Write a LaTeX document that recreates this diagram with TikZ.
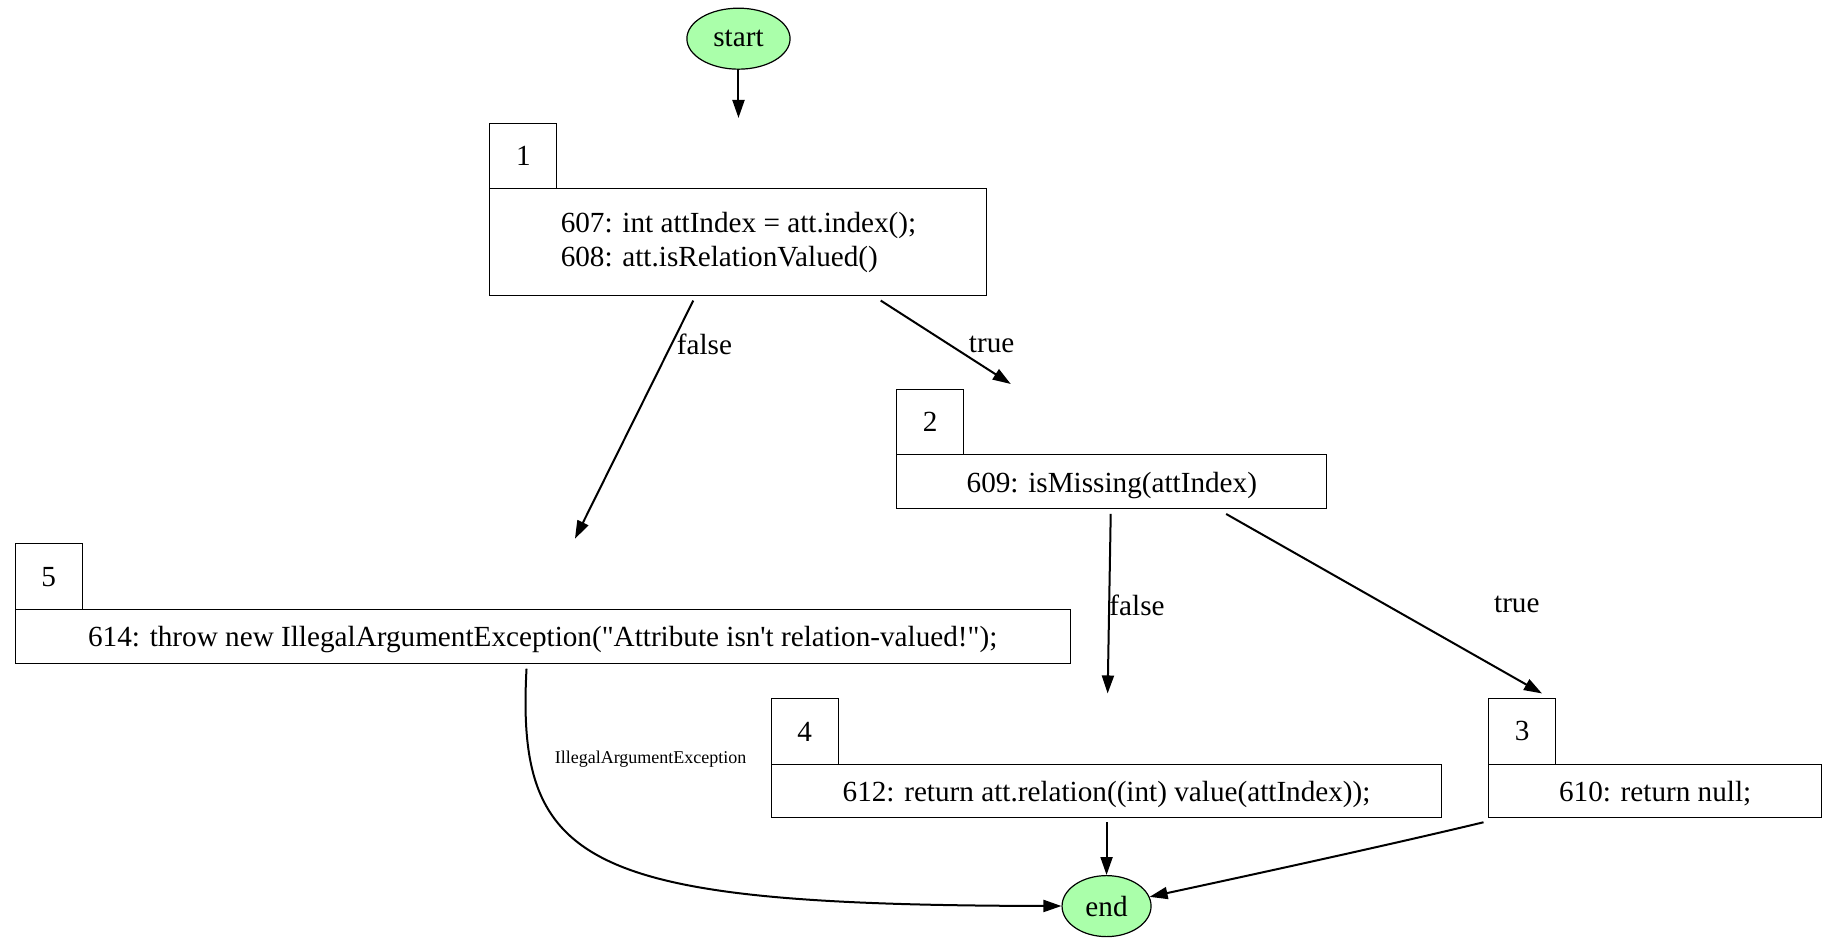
\documentclass[tikz,border=0pt]{standalone}
\usepackage{fontspec}
\setmainfont{Liberation Serif}
\usepackage{xcolor}
\usetikzlibrary{positioning,fit,arrows.meta,shapes.geometric}

\definecolor{termgreen}{RGB}{170,255,170}

\tikzset{
  terminal/.style={ellipse, draw, fill=termgreen, line width=0.6pt, inner sep=0pt, minimum height=30.5pt},
  codebox/.style={rectangle, draw, line width=0.5pt, outer sep=0pt, inner sep=0pt},
  linebox/.style={codebox, text height=12.4pt, text depth=2pt},
  tabbox/.style={rectangle, draw, line width=0.5pt, outer sep=0pt, inner sep=0pt, minimum width=33.4pt, minimum height=32.8pt},
  block/.style={rectangle, inner sep=2.6pt, outer sep=0pt},
  flow/.style={line width=1pt, -{Triangle[length=9pt,width=6pt]}},
  edgelabel/.style={inner sep=0pt},
  smalllabel/.style={inner sep=0pt, font=\fontsize{9}{11}\selectfont}
}

\begin{document}
\begin{tikzpicture}[x=0.5861pt, y=-0.5861pt, font=\fontsize{14.6}{17}\selectfont]
    \useasboundingbox (0,0) rectangle (1568,804);

    % Start and end
    \node[terminal, minimum width=51.6pt] (start) at (630,33) {start};
    \node[terminal, minimum width=44.5pt] (end) at (944,773) {end};

    % Code blocks
    \node[codebox, minimum width=248.5pt, minimum height=53.3pt, align=left] (b1) at (630,206.5)
        {607: int attIndex = att.index();\\608: att.isRelationValued()};
    \node[tabbox, above right=0pt of b1.north west] (t1) {1};
    \node[block, fit=(t1)(b1)] (n1) {};

    \node[linebox, minimum width=215.1pt, minimum height=27pt] (b2) at (948.5,411) {609: isMissing(attIndex)};
    \node[tabbox, above right=0pt of b2.north west] (t2) {2};
    \node[block, fit=(t2)(b2)] (n2) {};

    \node[linebox, minimum width=527.5pt, minimum height=27pt] (b5) at (463,543)
        {614: throw new IllegalArgumentException(\textquotedbl Attribute isn\textquotesingle t relation-valued!\textquotedbl);};
    \node[tabbox, above right=0pt of b5.north west] (t5) {5};
    \node[block, fit=(t5)(b5)] (n5) {};

    \node[linebox, minimum width=335.2pt, minimum height=26.4pt] (b4) at (944,674.5) {612: return att.relation((int) value(attIndex));};
    \node[tabbox, above right=0pt of b4.north west] (t4) {4};
    \node[block, fit=(t4)(b4)] (n4) {};

    \node[linebox, minimum width=166.4pt, minimum height=26.4pt] (b3) at (1412,674.5) {610: return null;};
    \node[tabbox, above right=0pt of b3.north west] (t3) {3};
    \node[block, fit=(t3)(b3)] (n3) {};

    % Edges
    \draw[flow] (start) -- (n1);
    \draw[flow] (n1) -- (n5) node[edgelabel] at (601,294) {false};
    \draw[flow] (n1) -- (n2) node[edgelabel] at (846,294) {true};
    \draw[flow] (n2) -- (n4) node[edgelabel] at (970,516) {false};
    \draw[flow] (n2) -- (n3) node[edgelabel] at (1294,516) {true};
    \draw[flow] (n5.256) .. controls (440,740) and (500,772) .. (end)
        node[smalllabel] at (555,648) {IllegalArgumentException};
    \draw[flow] (n4) -- (end);
    \draw[flow] (n3.south west) .. controls (1180,722) and (1060,748) .. (end);
\end{tikzpicture}
\end{document}
